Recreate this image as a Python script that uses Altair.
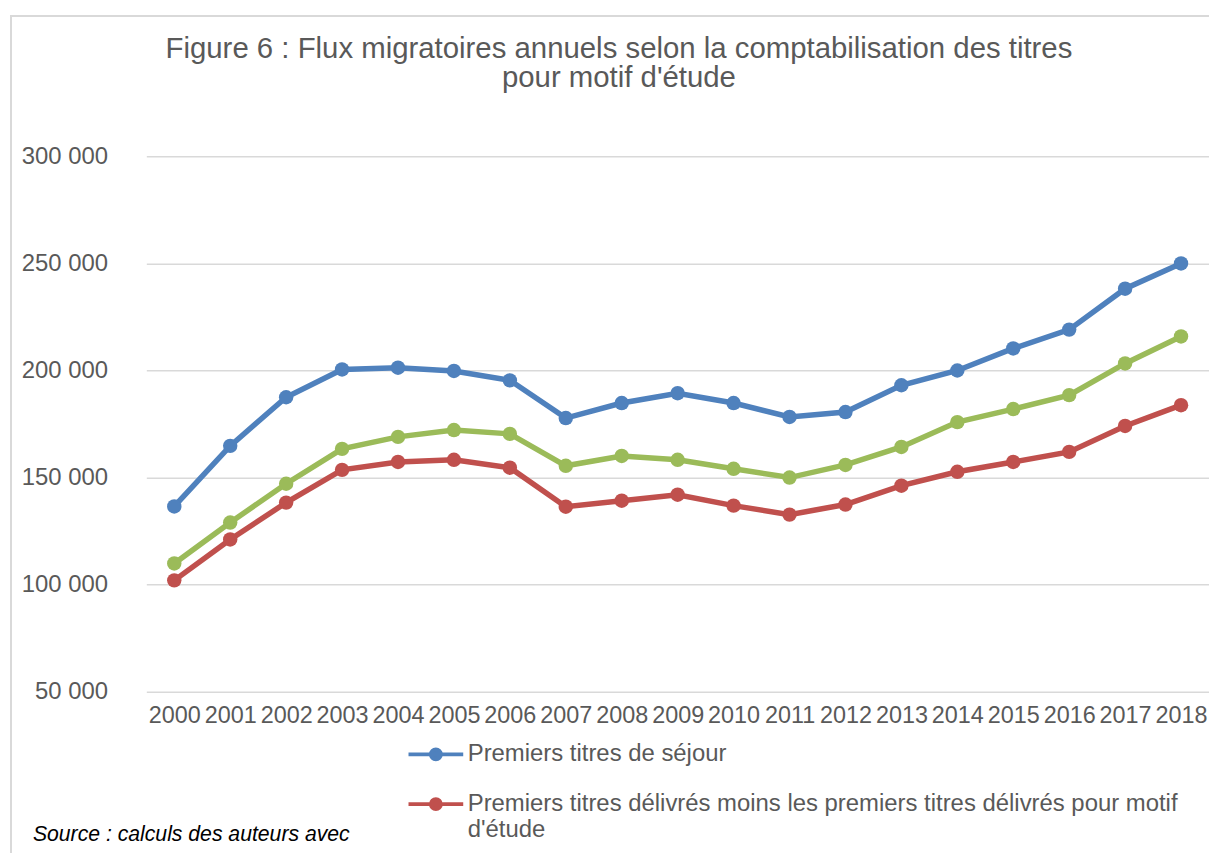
import altair as alt
import pandas as pd

years = list(range(2000, 2019))

nom_bleu = "Premiers titres de séjour"
nom_rouge = "Premiers titres délivrés moins les premiers titres délivrés pour motif d'étude"
nom_vert = "Série intermédiaire (légende hors cadre)"

premiers_titres = [136500, 164800, 187500, 200500, 201300, 199800, 195400, 177800, 184800,
                   189400, 184800, 178300, 180600, 193100, 200000, 210300, 219100, 238200, 250000]
hors_etudes = [102000, 121100, 138300, 153600, 157300, 158300, 154600, 136400, 139200,
               142000, 136900, 132700, 137400, 146200, 152700, 157300, 162000, 174100, 183800]
serie_verte = [109900, 129000, 147100, 163400, 169000, 172200, 170400, 155500, 160100,
               158300, 154100, 150000, 155900, 164300, 175900, 182000, 188500, 203300, 215900]

series_names = [nom_bleu, nom_rouge, nom_vert]
series_values = [premiers_titres, hors_etudes, serie_verte]
series_colors = ["#4F81BD", "#C0504D", "#9BBB59"]

y_ticks = [50000, 100000, 150000, 200000, 250000, 300000]

title_lines = ["Figure 6 : Flux migratoires annuels selon la comptabilisation des titres",
               "pour motif d'étude"]
source_text = "Source : calculs des auteurs avec"

rows = []
for name, vals in zip(series_names, series_values):
    for yr, v in zip(years, vals):
        rows.append({"annee": str(yr), "valeur": v, "serie": name})
df = pd.DataFrame(rows)

FONT = "Liberation Sans"
GREY = "#595959"

legend_symbol = "M-2,0H2M0.36,0A0.36,0.36,0,1,1,-0.36,0A0.36,0.36,0,1,1,0.36,0"

label_expr = ("datum.label == '" + nom_bleu + "' ? datum.label : "
              "['Premiers titres délivrés moins les premiers titres délivrés pour motif', \"d'étude\"]")

color = alt.Color(
    "serie:N",
    scale=alt.Scale(domain=series_names, range=series_colors),
    legend=alt.Legend(
        title=None, orient="none", legendX=275, legendY=585, direction="vertical",
        values=[nom_bleu, nom_rouge], symbolType=legend_symbol, symbolSize=756,
        symbolStrokeWidth=4, labelFontSize=24, labelFont=FONT, labelColor=GREY,
        labelLimit=0, labelOffset=16, rowPadding=21, labelExpr=label_expr,
        symbolOpacity=1,
    ),
)

x = alt.X("annee:O", scale=alt.Scale(type="point", padding=0.5),
          axis=alt.Axis(title=None, labelAngle=0, tickSize=0, domain=False, grid=False,
                        labelPadding=12, labelFontSize=23.5, labelFont=FONT, labelColor=GREY,
                        labelOverlap=False, labelFlush=False))
y = alt.Y("valeur:Q", scale=alt.Scale(domain=[50000, 300000], nice=False, zero=False),
          axis=alt.Axis(title=None, values=y_ticks, tickSize=0, domain=False,
                        labelExpr="format(datum.value / 1000, 'd') + ' 000'",
                        labelPadding=39, labelFontSize=24, labelFont=FONT, labelColor=GREY,
                        gridColor="#d9d9d9", gridWidth=1.5))

base = alt.Chart(df).encode(x=x, y=y, color=color, detail="serie:N")
lines = base.mark_line(strokeWidth=5.5)
points = base.mark_circle(size=210, opacity=1)

frame = alt.Chart(pd.DataFrame({"k": [0]})).mark_rect(
    fill="transparent", stroke="#d9d9d9", strokeWidth=2
).encode(x=alt.value(-136), y=alt.value(-141), x2=alt.value(1300), y2=alt.value(900))

title = alt.Chart(pd.DataFrame({"k": [0]})).mark_text(
    text=title_lines, align="center", baseline="alphabetic", fontSize=29.5, font=FONT,
    color=GREY, lineHeight=29.5
).encode(x=alt.value(475), y=alt.value(-99))

source = alt.Chart(pd.DataFrame({"t": [source_text]})).mark_text(
    align="left", baseline="alphabetic", fontStyle="italic", fontSize=21.3, font=FONT, color="#000000"
).encode(text="t:N", x=alt.value(-114), y=alt.value(688))

chart = alt.layer(frame, title, lines, points, source).properties(
    width=1068, height=538,
    padding={"left": 139, "top": 147, "right": 0, "bottom": 160},
    autosize=alt.AutoSizeParams(type="none"),
).configure_view(stroke=None)

chart.save("out.html", embed_options={"renderer": "svg", "actions": False})
